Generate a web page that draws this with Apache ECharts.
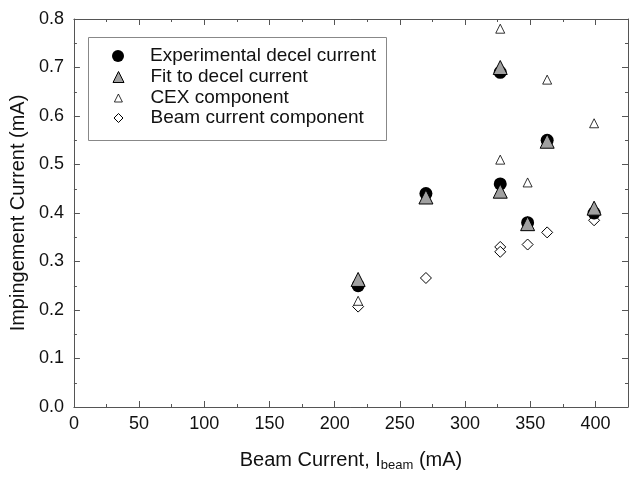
<!DOCTYPE html>
<html>
<head>
<meta charset="utf-8">
<script src="https://cdn.jsdelivr.net/npm/echarts@6/dist/echarts.min.js"></script>
<style>html,body{margin:0;padding:0;background:#fff}#c{width:631px;height:477px}</style>
</head>
<body>
<div id="c"></div>
<script>
// Data
var beamCurrent = [218, 270, 327, 327, 348, 363, 399];
var experimental = [0.25, 0.44, 0.69, 0.46, 0.38, 0.55, 0.40];
var fitDecel = [0.263, 0.433, 0.70, 0.445, 0.378, 0.548, 0.41];
var cexBeam = [218, 327, 327, 348, 363, 399];
var cexComponent = [0.219, 0.78, 0.51, 0.463, 0.675, 0.585];
var beamCompX = [218, 270, 327, 327, 348, 363, 399];
var beamComponent = [0.207, 0.266, 0.33, 0.32, 0.335, 0.36, 0.385];
var seriesNames = ['Experimental decel current', 'Fit to decel current', 'CEX component', 'Beam current component'];

function pairs(xs, ys) { return xs.map(function (x, i) { return [x, ys[i]]; }); }

var font = 'Liberation Sans, Arial, sans-serif';
var axisColor = '#555';
var chart = echarts.init(document.getElementById('c'));
var baseX = {
  type: 'value', min: 0, max: 425, interval: 50,
  axisLine: { show: true, onZero: false, lineStyle: { color: axisColor } },
  axisTick: { inside: true, length: 6, lineStyle: { color: axisColor } },
  minorTick: { show: true, splitNumber: 2, length: 3, lineStyle: { color: axisColor } },
  splitLine: { show: false }
};
var baseY = {
  type: 'value', min: 0, max: 0.8, interval: 0.1,
  axisLine: { show: true, onZero: false, lineStyle: { color: axisColor } },
  axisTick: { inside: true, length: 6, lineStyle: { color: axisColor } },
  minorTick: { show: true, splitNumber: 2, length: 3, lineStyle: { color: axisColor } },
  splitLine: { show: false }
};
// legend rows: icon size per entry (legend layout)
var legendIconSizes = [12, 11, 8, 9];
var legendBorderWidths = [0, 1, 0.8, 1];
var legendRowCenters = [56, 77, 98, 118];
var legends = seriesNames.map(function (n, i) {
  var w = legendIconSizes[i];
  return {
    left: 118 - w / 2, top: legendRowCenters[i] - 10, orient: 'vertical',
    padding: 0, itemWidth: w, itemHeight: w,
    itemStyle: { borderWidth: legendBorderWidths[i] },
    textStyle: { fontFamily: font, fontSize: 19, lineHeight: 20, color: '#111', padding: [0, 0, 0, 27 - w / 2] },
    data: [n]
  };
});
chart.setOption({
  backgroundColor: '#fff',
  animation: false,
  grid: { left: 72, top: 19, right: 0, bottom: 67, containLabel: false },
  graphic: [{
    type: 'rect', left: 88, top: 37, z: 0,
    shape: { width: 298, height: 103 },
    style: { fill: '#fff', stroke: '#888', lineWidth: 1 }
  }],
  xAxis: [
    Object.assign({}, baseX, {
      position: 'bottom',
      name: 'Beam Current, I{sub|beam} (mA)',
      nameLocation: 'middle', nameGap: 42,
      nameTextStyle: { fontFamily: font, fontSize: 20, color: '#111',
        rich: { sub: { fontFamily: font, fontSize: 13, color: '#111', verticalAlign: 'bottom', padding: [10, 0, 0, 0] } } },
      axisLabel: { fontFamily: font, fontSize: 18, color: '#111', margin: 8,
        formatter: function (v) { return v > 400 ? '' : v; } }
    }),
    Object.assign({}, baseX, { position: 'top', axisLabel: { show: false } })
  ],
  yAxis: [
    Object.assign({}, baseY, {
      position: 'left',
      name: 'Impingement Current (mA)',
      nameLocation: 'middle', nameGap: 44,
      nameTextStyle: { fontFamily: font, fontSize: 20, color: '#111' },
      axisLabel: { fontFamily: font, fontSize: 18, color: '#111', margin: 10,
        formatter: function (v) { return v.toFixed(1); } }
    }),
    Object.assign({}, baseY, { position: 'right', axisLabel: { show: false } })
  ],
  legend: legends,
  series: [
    { name: seriesNames[3], type: 'scatter', symbol: 'diamond', symbolSize: 11,
      itemStyle: { color: '#fff', borderColor: '#000', borderWidth: 1, opacity: 1 },
      data: pairs(beamCompX, beamComponent), z: 2 },
    { name: seriesNames[2], type: 'scatter', symbol: 'triangle', symbolSize: 9,
      itemStyle: { color: '#fff', borderColor: '#000', borderWidth: 0.8, opacity: 1 },
      data: pairs(cexBeam, cexComponent), z: 3 },
    { name: seriesNames[0], type: 'scatter', symbol: 'circle', symbolSize: 13,
      itemStyle: { color: '#000', borderColor: '#000', borderWidth: 0, opacity: 1 },
      data: pairs(beamCurrent, experimental), z: 4 },
    { name: seriesNames[1], type: 'scatter', symbol: 'triangle', symbolSize: 14,
      itemStyle: { color: '#a0a0a0', borderColor: '#000', borderWidth: 1, opacity: 1 },
      data: pairs(beamCurrent, fitDecel), z: 5 }
  ]
});
</script>
</body>
</html>
